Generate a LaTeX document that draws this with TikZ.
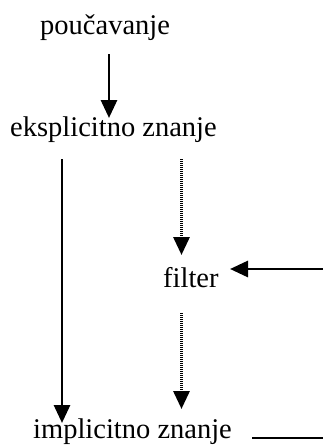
\documentclass[tikz,border=0pt]{standalone}
\usepackage{fontspec}
\setmainfont{Liberation Serif}
\usetikzlibrary{arrows.meta}
\begin{document}
\begin{tikzpicture}[x=1pt,y=-1pt,
  label/.style={inner sep=0pt,anchor=base west,font=\fontsize{28.5}{34}\selectfont},
  solidarrow/.style={line width=2.9pt,-{Triangle[width=16pt,length=18pt]}},
  dottedarrow/.style={line width=3pt,dash pattern=on 1.4pt off 0.6pt,
    -{Triangle[width=16pt,length=18pt]}},
  plainline/.style={line width=2.6pt}]
  \useasboundingbox (0,0) rectangle (323,445);

  % labels
  \node[label] (pouc) at (40,34) {poučavanje};
  \node[label] (eks) at (10,136) {eksplicitno znanje};
  \node[label] (filt) at (163,287) {filter};
  \node[label] (impl) at (33,438) {implicitno znanje};

  % connector end points
  \coordinate (a1s) at (109,54);
  \coordinate (a1e) at (109,118);
  \coordinate (a2s) at (62,159);
  \coordinate (a2e) at (62,423);
  \coordinate (a3s) at (181.5,159);
  \coordinate (a3e) at (181.5,255);
  \coordinate (a4s) at (181.5,313);
  \coordinate (a4e) at (181.5,409);
  \coordinate (a5s) at (323,269);
  \coordinate (a5e) at (230,269);
  \coordinate (l1s) at (252,438);
  \coordinate (l1e) at (323,438);

  % connectors
  \draw[solidarrow] (a1s) -- (a1e);
  \draw[solidarrow] (a2s) -- (a2e);
  \draw[dottedarrow] (a3s) -- (a3e);
  \draw[dottedarrow] (a4s) -- (a4e);
  \draw[solidarrow] (a5s) -- (a5e);
  \draw[plainline] (l1s) -- (l1e);
\end{tikzpicture}
\end{document}
